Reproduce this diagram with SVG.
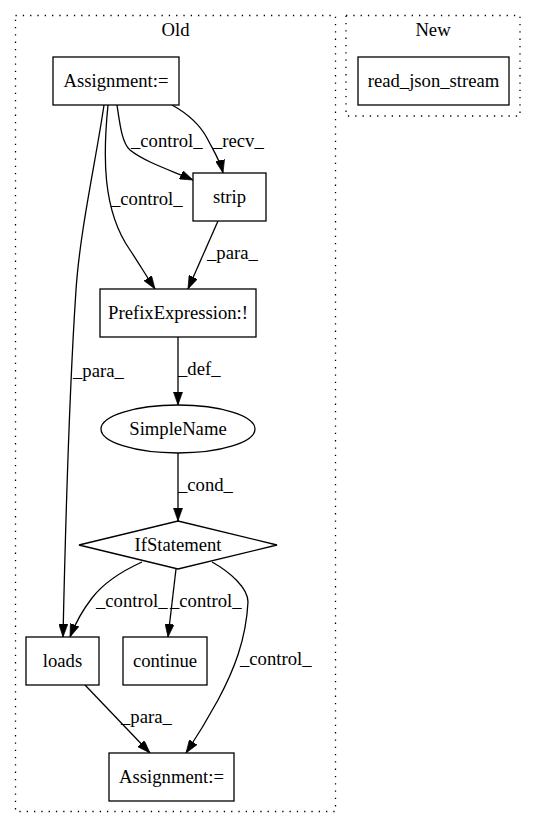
<svg xmlns="http://www.w3.org/2000/svg" width="536" height="828" viewBox="0 0 536 828">
<defs>
<marker id="ah" viewBox="0 0 10 7" refX="10" refY="3.5" markerWidth="13" markerHeight="9.3" markerUnits="userSpaceOnUse" orient="auto">
<path d="M0,0 L10,3.5 L0,7 z" fill="#000" stroke="#000" stroke-width="0.5"/>
</marker>
</defs>
<style>
text{font-family:"Liberation Serif","Times New Roman",serif;font-size:18.67px;fill:#000}
.c{text-anchor:middle}
.cl{fill:none;stroke:#000;stroke-width:1.3;stroke-dasharray:1.3,6}
.n{fill:#fff;stroke:#000;stroke-width:1.3}
.e{fill:none;stroke:#000;stroke-width:1.3;marker-end:url(#ah)}
</style>
<rect width="536" height="828" fill="#fff"/>
<g id="cluster_old">
<rect class="cl" x="15.5" y="15.5" width="320" height="796"/>
<text class="c" x="175.5" y="36">Old</text>
</g>
<g id="cluster_new">
<rect class="cl" x="346" y="15.5" width="174" height="100.5"/>
<text class="c" x="433" y="36">New</text>
</g>
<g id="edges">
<path class="e" d="M104,105 C96,160 80,230 76,290 C70,380 66,500 63,637"/>
<text x="73" y="377">_para_</text>
<path class="e" d="M108,105 C103,155 102,210 130,250 C138,262 147,277 155,289"/>
<text x="111" y="205">_control_</text>
<path class="e" d="M117,105 C120,125 122,143 130,150 C145,162 170,170 193,180"/>
<text x="131" y="147">_control_</text>
<path class="e" d="M172,105 C190,115 200,125 207,138 C213,150 220,160 223,173"/>
<text x="213" y="147">_recv_</text>
<path class="e" d="M218,221 L188,289"/>
<text x="207" y="259">_para_</text>
<path class="e" d="M178,337 L178,405"/>
<text x="178" y="375">_def_</text>
<path class="e" d="M178,453 L178,521"/>
<text x="178" y="491">_cond_</text>
<path class="e" d="M142,562 C120,572 102,585 92,598 C82,611 75,624 70,637"/>
<text x="96" y="607">_control_</text>
<path class="e" d="M176,569 L168,637"/>
<text x="170" y="607">_control_</text>
<path class="e" d="M212,562 C230,572 248,588 248,602 C246,640 234,670 218,700 C206,722 196,738 186,753"/>
<text x="240" y="665">_control_</text>
<path class="e" d="M85,685 L150,753"/>
<text x="121" y="723">_para_</text>
</g>
<g id="assign1">
<rect class="n" x="53" y="57" width="126" height="48"/>
<text class="c" x="116" y="87">Assignment:=</text>
</g>
<g id="read_json_stream">
<rect class="n" x="358" y="57" width="151" height="48"/>
<text class="c" x="433.5" y="87">read_json_stream</text>
</g>
<g id="strip">
<rect class="n" x="193" y="173" width="73" height="48"/>
<text class="c" x="229.5" y="203">strip</text>
</g>
<g id="prefix">
<rect class="n" x="100" y="289" width="156" height="48"/>
<text class="c" x="178" y="319">PrefixExpression:!</text>
</g>
<g id="simplename">
<ellipse class="n" cx="178" cy="429" rx="77" ry="24"/>
<text class="c" x="178" y="435">SimpleName</text>
</g>
<g id="ifstatement">
<polygon class="n" points="178,521 277,545 178,569 79,545"/>
<text class="c" x="178" y="551">IfStatement</text>
</g>
<g id="loads">
<rect class="n" x="26" y="637" width="73" height="48"/>
<text class="c" x="62.5" y="667">loads</text>
</g>
<g id="continue">
<rect class="n" x="123" y="637" width="84" height="48"/>
<text class="c" x="165" y="667">continue</text>
</g>
<g id="assign2">
<rect class="n" x="109" y="753" width="125" height="48"/>
<text class="c" x="171.5" y="783">Assignment:=</text>
</g>
</svg>
